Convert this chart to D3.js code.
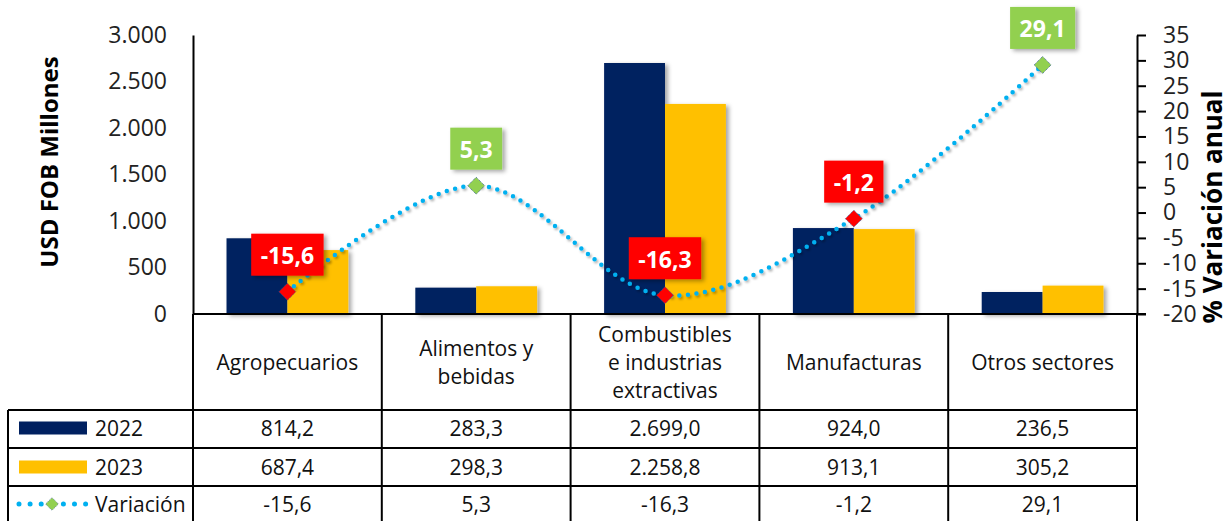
<!DOCTYPE html>
<html>
<head>
<meta charset="utf-8">
<script src="https://cdn.jsdelivr.net/npm/d3@7"></script>
<style>
  body { margin: 0; background: #fff; }
  svg { font-family: "Open Sans", sans-serif; display: block; }
</style>
</head>
<body>
<svg id="chart" width="1228" height="521"></svg>
<script>
// data
const categories = ["Agropecuarios", "Alimentos y bebidas", "Combustibles e industrias extractivas", "Manufacturas", "Otros sectores"];
const categoryLines = [["Agropecuarios"], ["Alimentos y", "bebidas"], ["Combustibles", "e industrias", "extractivas"], ["Manufacturas"], ["Otros sectores"]];
const years = ["2022", "2023"];
const values2022 = [814.2, 283.3, 2699.0, 924.0, 236.5];
const values2023 = [687.4, 298.3, 2258.8, 913.1, 305.2];
const variacion = [-15.6, 5.3, -16.3, -1.2, 29.1];
const leftTicks = [0, 500, 1000, 1500, 2000, 2500, 3000];
const rightTicks = [-20, -15, -10, -5, 0, 5, 10, 15, 20, 25, 30, 35];

const colors = { "2022": "#002060", "2023": "#FFC000" };
const lineColor = "#00B0F0";

const locale = d3.formatLocale({ decimal: ",", thousands: ".", grouping: [3], currency: ["", ""], minus: "-" });
const fmtThousands = locale.format(",");
const fmt1 = locale.format(",.1f");

const svg = d3.select("#chart");
const plotLeft = 193, plotRight = 1137, plotTop = 35, base = 314;

// shadows
const defs = svg.append("defs");
defs.append("filter").attr("id", "shadow").attr("x", "-20%").attr("y", "-20%").attr("width", "150%").attr("height", "150%")
  .append("feDropShadow").attr("dx", 3).attr("dy", 2).attr("stdDeviation", 2).attr("flood-color", "#000").attr("flood-opacity", 0.35);
defs.append("filter").attr("id", "lshadow").attr("x", "-10%").attr("y", "-10%").attr("width", "130%").attr("height", "130%")
  .append("feDropShadow").attr("dx", 1.5).attr("dy", 2).attr("stdDeviation", 1.2).attr("flood-color", "#000").attr("flood-opacity", 0.3);

const x = d3.scaleBand().domain(categories).range([plotLeft, plotRight]).paddingInner(0.355).paddingOuter(0.1775);
const xs = d3.scaleBand().domain(years).range([0, x.bandwidth()]);
const y = d3.scaleLinear().domain([0, 3000]).range([base, plotTop]);
const yR = d3.scaleLinear().domain([-20, 35]).range([base, plotTop]);

const rows = categories.map((c, i) => ({ cat: c, "2022": values2022[i], "2023": values2023[i], v: variacion[i] }));

// bars
const groups = svg.append("g").selectAll("g").data(rows).enter().append("g")
  .attr("transform", d => `translate(${x(d.cat)},0)`);
groups.selectAll("rect").data(d => years.map(k => ({ k, v: d[k] }))).enter().append("rect")
  .attr("x", d => xs(d.k))
  .attr("y", d => y(d.v))
  .attr("width", xs.bandwidth())
  .attr("height", d => base - y(d.v))
  .attr("fill", d => colors[d.k])
  .attr("filter", "url(#shadow)");

// left axis
const gl = svg.append("g").attr("transform", `translate(${plotLeft},0)`)
  .call(d3.axisLeft(y).tickValues(leftTicks).tickFormat(fmtThousands).tickSize(0).tickPadding(26));
gl.select(".domain").attr("stroke", "#000").attr("stroke-width", 2);
gl.selectAll("text").attr("font-size", 23).attr("fill", "#222").attr("font-family", "Open Sans");

// right axis
const gr = svg.append("g").attr("transform", `translate(${plotRight},0)`)
  .call(d3.axisRight(yR).tickValues(rightTicks).tickFormat(d => String(d)).tickSizeInner(9).tickSizeOuter(0).tickPadding(17));
gr.select(".domain").attr("stroke", "#000").attr("stroke-width", 2);
gr.selectAll(".tick line").attr("stroke", "#000").attr("stroke-width", 2);
gr.selectAll("text").attr("font-size", 23).attr("fill", "#222").attr("font-family", "Open Sans");

// axis titles (baseline on the outer side)
svg.append("text").attr("transform", "translate(58,162) rotate(-90)")
  .attr("text-anchor", "middle")
  .attr("font-size", 24).attr("font-weight", "bold").attr("fill", "#000").text("USD FOB Millones");
svg.append("text").attr("transform", "translate(1222,207) rotate(-90)")
  .attr("text-anchor", "middle")
  .attr("font-size", 26).attr("font-weight", "bold").attr("fill", "#000").text("% Variación anual");

// baseline
svg.append("line").attr("x1", plotLeft).attr("x2", plotRight + 9).attr("y1", base).attr("y2", base)
  .attr("stroke", "#000").attr("stroke-width", 2);

// variation line
const cx = d => x(d.cat) + x.bandwidth() / 2;
const line = d3.line().x(cx).y(d => yR(d.v)).curve(d3.curveCatmullRom.alpha(0.5));
svg.append("path").datum(rows).attr("d", line)
  .attr("fill", "none").attr("stroke", lineColor).attr("stroke-width", 4.5)
  .attr("stroke-linecap", "round").attr("stroke-dasharray", "0 8.6")
  .attr("filter", "url(#lshadow)");

// markers
svg.append("g").selectAll("rect").data(rows).enter().append("rect")
  .attr("x", -6).attr("y", -6).attr("width", 12).attr("height", 12)
  .attr("transform", d => `translate(${cx(d)},${yR(d.v)}) rotate(45)`)
  .attr("fill", d => d.v < 0 ? "#FF0000" : "#92D050")
  .attr("stroke", "#2F5597").attr("stroke-width", 0.8).attr("stroke-dasharray", "1 1");

// value labels
const lab = svg.append("g").selectAll("g").data(rows).enter().append("g")
  .attr("transform", d => `translate(${cx(d)},${yR(d.v) - 16})`);
lab.append("text")
  .attr("text-anchor", "middle").attr("y", -20.5).attr("dominant-baseline", "central")
  .attr("font-size", 23).attr("font-weight", "bold").attr("fill", "#fff")
  .text(d => fmt1(d.v));
lab.each(function (d) {
  const g = d3.select(this);
  const w = g.select("text").node().getComputedTextLength() + 19;
  g.insert("rect", "text").attr("x", -w / 2).attr("y", -42).attr("width", w).attr("height", 42)
    .attr("fill", d.v < 0 ? "#FF0000" : "#92D050").attr("filter", "url(#shadow)");
});

// data table
const tbl = svg.append("g");
const rowY = [base, 410, 448, 486];
const tableLeft = 8;
const step = x.step();
const bounds = d3.range(categories.length + 1).map(i => plotLeft + i * step);
const stroke = s => s.attr("stroke", "#000").attr("stroke-width", 2);

rowY.slice(1).forEach(yy => stroke(tbl.append("line").attr("x1", tableLeft).attr("x2", plotRight).attr("y1", yy).attr("y2", yy)));
bounds.forEach(bx => stroke(tbl.append("line").attr("x1", bx).attr("x2", bx).attr("y1", base).attr("y2", 521)));
stroke(tbl.append("line").attr("x1", tableLeft).attr("x2", tableLeft).attr("y1", rowY[1]).attr("y2", 521));

// header
categories.forEach((c, i) => {
  const lines = categoryLines[i];
  const mid = 362;
  lines.forEach((t, j) => {
    tbl.append("text").attr("x", bounds[i] + step / 2).attr("y", mid + (j - (lines.length - 1) / 2) * 28)
      .attr("text-anchor", "middle").attr("dominant-baseline", "central")
      .attr("font-size", 21).attr("fill", "#111").text(t);
  });
});

// data rows
const rowMid = [428, 467, 504];
const tableSeries = [values2022, values2023, variacion];
tableSeries.forEach((arr, r) => {
  arr.forEach((v, i) => {
    tbl.append("text").attr("x", bounds[i] + step / 2).attr("y", rowMid[r])
      .attr("text-anchor", "middle").attr("dominant-baseline", "central")
      .attr("font-size", 21).attr("fill", "#111").text(fmt1(v));
  });
});

// legend column
years.forEach((k, r) => {
  tbl.append("rect").attr("x", 19).attr("y", rowMid[r] - 6.5).attr("width", 68).attr("height", 13).attr("fill", colors[k]);
  tbl.append("text").attr("x", 95).attr("y", rowMid[r]).attr("dominant-baseline", "central")
    .attr("font-size", 21).attr("fill", "#111").text(k);
});
tbl.append("line").attr("x1", 19).attr("x2", 86).attr("y1", rowMid[2]).attr("y2", rowMid[2])
  .attr("stroke", lineColor).attr("stroke-width", 5).attr("stroke-linecap", "round").attr("stroke-dasharray", "0 11.1");
tbl.append("rect").attr("x", -4.5).attr("y", -4.5).attr("width", 9).attr("height", 9)
  .attr("transform", `translate(52,${rowMid[2]}) rotate(45)`).attr("fill", "#92D050")
  .attr("stroke", "#2F5597").attr("stroke-width", 0.6).attr("stroke-dasharray", "1 1");
tbl.append("text").attr("x", 95).attr("y", rowMid[2]).attr("dominant-baseline", "central")
  .attr("font-size", 21).attr("fill", "#111").text("Variación");
</script>
</body>
</html>
